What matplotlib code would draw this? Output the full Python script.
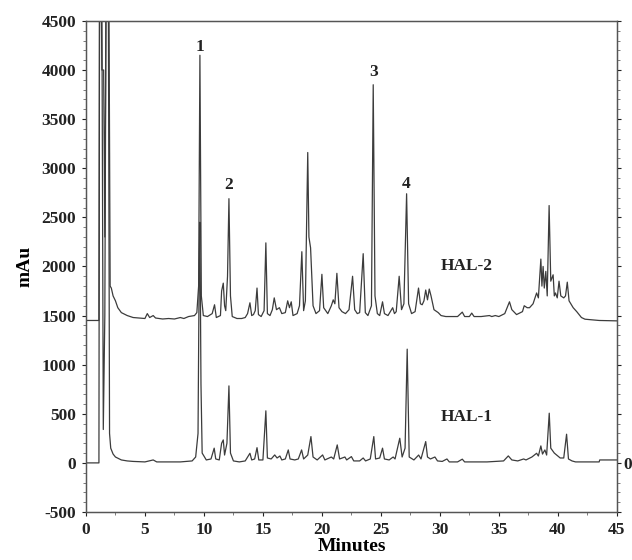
import matplotlib
matplotlib.use("Agg")
import matplotlib.pyplot as plt
from matplotlib.ticker import MultipleLocator

# ---- data (retention time in minutes, signal in mAu) ----
hal2_t = [0, 1.1, 1.15, 1.3, 1.35, 1.5, 1.6, 1.7, 1.95, 2.05, 2.15, 2.3, 2.5, 2.7, 3.0, 3.5, 4.0, 4.5,
          5.0, 5.2, 5.4, 5.7, 5.9, 6.5, 7.0, 7.5, 8.0, 8.3, 8.7, 9.2, 9.4, 9.55, 9.66, 9.78, 9.95,
          10.3, 10.7, 10.9, 11.05, 11.4, 11.5, 11.64, 11.75, 11.85, 12.0, 12.12, 12.25, 12.4, 12.8,
          13.2, 13.5, 13.7, 13.9, 14.05, 14.2, 14.35, 14.5, 14.62, 14.85, 15.1, 15.25, 15.38, 15.6,
          15.8, 15.96, 16.15, 16.4, 16.6, 16.9, 17.1, 17.25, 17.4, 17.55, 17.9, 18.1, 18.3, 18.45,
          18.6, 18.8, 18.9, 19.04, 19.25, 19.5, 19.8, 20.0, 20.15, 20.5, 20.8, 20.96, 21.1, 21.27,
          21.45, 21.7, 22.0, 22.3, 22.6, 22.78, 23.0, 23.2, 23.5, 23.68, 23.9, 24.2, 24.35, 24.5,
          24.7, 24.9, 25.14, 25.3, 25.6, 26.0, 26.15, 26.3, 26.55, 26.75, 26.95, 27.18, 27.35, 27.6,
          27.9, 28.19, 28.35, 28.5, 28.65, 28.8, 28.95, 29.1, 29.25, 29.5, 29.86, 30.1, 30.5, 31.0,
          31.5, 31.9, 32.1, 32.5, 32.7, 32.9, 33.5, 34.2, 34.4, 34.7, 35.0, 35.5, 35.9, 36.1, 36.5,
          37.0, 37.15, 37.4, 37.6, 37.9, 38.2, 38.35, 38.56, 38.65, 38.75, 38.85, 38.98, 39.1, 39.26,
          39.4, 39.6, 39.7, 39.8, 39.95, 40.1, 40.25, 40.5, 40.65, 40.8, 40.95, 41.3, 41.6, 42.0,
          42.3, 43.0, 43.5, 45]
hal2_v = [1450, 1450, 4700, 4700, 4000, 4000, 2300, 4700, 4700, 1800, 1780, 1700, 1650, 1580, 1530, 1500, 1480, 1475,
          1470, 1520, 1480, 1500, 1475, 1465, 1470, 1465, 1480, 1470, 1490, 1500, 1530, 1800, 4150, 1700, 1500,
          1490, 1520, 1610, 1480, 1500, 1750, 1830, 1600, 1550, 1900, 2690, 1700, 1490, 1470,
          1470, 1480, 1520, 1630, 1500, 1510, 1550, 1780, 1510, 1490, 1550, 2240, 1520, 1500,
          1560, 1680, 1560, 1580, 1520, 1530, 1650, 1580, 1640, 1500, 1520, 1600, 2150, 1550,
          1650, 3160, 2300, 2190, 1600, 1520, 1550, 1920, 1580, 1520, 1600, 1660, 1620, 1930,
          1580, 1540, 1520, 1560, 1900, 1560, 1520, 1530, 2130, 1530, 1500, 1600, 3850, 1700,
          1520, 1500, 1640, 1520, 1500, 1580, 1520, 1540, 1900, 1560, 1620, 2740, 1620, 1520,
          1540, 1780, 1620, 1610, 1650, 1760, 1660, 1770, 1700, 1560, 1530, 1500, 1490, 1490,
          1490, 1535, 1490, 1490, 1525, 1490, 1490, 1500, 1490, 1500, 1490, 1520, 1640, 1560, 1510,
          1540, 1600, 1580, 1580, 1620, 1730, 1680, 2075, 1800, 2000, 1780, 1950, 1700, 2620,
          1850, 1915, 1700, 1730, 1680, 1850, 1700, 1680, 1700, 1840, 1650, 1580, 1540, 1480,
          1463, 1455, 1450, 1446]

hal1_t = [0, 1.1, 1.15, 1.35, 1.47, 1.6, 1.7, 1.9, 2.0, 2.1, 2.3, 2.5, 3.0, 3.5, 4.0, 5.0, 5.7, 6.0,
          7.0, 8.0, 9.0, 9.3, 9.5, 9.6, 9.66, 9.75, 9.85, 10.2, 10.6, 10.87, 11.0, 11.3, 11.5, 11.64,
          11.75, 11.95, 12.12, 12.25, 12.5, 13.0, 13.5, 13.9, 14.05, 14.3, 14.5, 14.65, 15.0, 15.25,
          15.38, 15.7, 16.0, 16.2, 16.44, 16.6, 16.9, 17.15, 17.3, 17.7, 18.0, 18.28, 18.45, 18.8,
          19.07, 19.25, 19.6, 20.06, 20.25, 20.8, 21.0, 21.3, 21.5, 21.95, 22.1, 22.5, 22.7, 23.2,
          23.5, 23.7, 24.1, 24.4, 24.55, 24.9, 25.14, 25.3, 25.7, 26.04, 26.2, 26.6, 26.8, 27.05,
          27.23, 27.4, 27.8, 28.2, 28.4, 28.8, 28.95, 29.2, 29.58, 29.8, 30.2, 30.6, 30.8, 31.5,
          31.9, 32.1, 33.0, 34.0, 35.4, 35.8, 36.1, 36.6, 37.1, 37.3, 37.8, 38.2, 38.35, 38.56,
          38.7, 38.9, 39.05, 39.27, 39.4, 39.7, 39.9, 40.2, 40.5, 40.74, 40.9, 41.2, 41.5, 43.5,
          43.55, 45]
hal1_v = [0, 0, 4700, 4700, 340, 1500, 4700, 4700, 300, 150, 90, 60, 30, 20, 15, 10, 30, 10,
          10, 10, 20, 60, 300, 2000, 2450, 800, 100, 30, 40, 150, 40, 30, 200, 234,
          80, 200, 784, 100, 20, 10, 20, 98, 30, 40, 155, 30, 30, 530,
          50, 40, 81, 50, 70, 30, 40, 132, 40, 30, 40, 132, 40, 80,
          268, 60, 30, 81, 30, 60, 40, 183, 40, 60, 30, 64, 20, 20,
          50, 20, 40, 268, 40, 50, 150, 40, 30, 60, 40, 251, 60, 150,
          1158, 60, 30, 80, 40, 217, 60, 40, 60, 20, 15, 40, 10, 10,
          38, 10, 10, 10, 20, 71, 30, 20, 40, 30, 60, 98, 70, 173,
          90, 132, 80, 506, 150, 100, 80, 50, 50, 292, 40, 20, 10, 10,
          30, 30]

peak_labels = ["1", "2", "3", "4"]
peak_label_t = [9.66, 12.12, 24.35, 27.18]
peak_label_v = [4230, 2830, 3975, 2840]

trace_names = ["HAL-2", "HAL-1"]
trace_name_t = [32.3, 32.3]
trace_name_v = [2000, 470]

y_ticks = list(range(-500, 4501, 500))
x_ticks = list(range(0, 46, 5))

# ---- drawing ----
plt.rcParams['font.family'] = ['Liberation Serif', 'DejaVu Serif']
plt.rcParams['font.weight'] = 'bold'
plt.rcParams['axes.unicode_minus'] = False

fig = plt.figure(figsize=(6.32, 5.6), dpi=100)
ax = fig.add_axes([0.136, 0.0857, 0.840, 0.877])

line_col = '#3c3c3c'
ax.plot(hal2_t, hal2_v, color=line_col, lw=0.9)
ax.plot(hal1_t, hal1_v, color=line_col, lw=0.9)

ax.set_xlim(0, 45)
ax.set_ylim(-500, 4500)
ax.set_xticks(x_ticks)
ax.set_yticks(y_ticks)
ax.xaxis.set_minor_locator(MultipleLocator(2.5))
ax.yaxis.set_minor_locator(MultipleLocator(100))
ax.tick_params(axis='both', which='major', labelsize=12.5, length=3, width=0.8,
               direction='out', pad=4, colors='#222222')
ax.tick_params(axis='both', which='minor', length=2, width=0.6, direction='out', colors='#666666')
ax.tick_params(axis='x', which='both', top=False)
for lab in ax.get_xticklabels() + ax.get_yticklabels():
    lab.set_fontweight('bold')

for s in ax.spines.values():
    s.set_color('#555555')
    s.set_linewidth(1.0)

ax2 = ax.twinx()
ax2.set_ylim(-500, 4500)
ax2.set_yticks(y_ticks)
ax2.set_yticklabels(["0" if v == 0 else "" for v in y_ticks])
ax2.yaxis.set_minor_locator(MultipleLocator(100))
ax2.tick_params(axis='y', which='major', labelsize=12.5, length=3, width=0.8, pad=2, colors='#222222')
ax2.tick_params(axis='y', which='minor', length=2, width=0.6, colors='#666666')
for lab in ax2.get_yticklabels():
    lab.set_fontweight('bold')
for s in ax2.spines.values():
    s.set_color('#555555')

ax.set_ylabel("mAu", fontsize=14, fontweight='bold', labelpad=6)
ax.set_xlabel("Minutes", fontsize=14, fontweight='bold', labelpad=0)

for lab, t, v in zip(peak_labels, peak_label_t, peak_label_v):
    ax.text(t, v, lab, ha='center', va='center', fontsize=12.5, fontweight='bold', color='#222222')
for lab, t, v in zip(trace_names, trace_name_t, trace_name_v):
    ax.text(t, v, lab, ha='center', va='center', fontsize=12.5, fontweight='bold', color='#222222')

fig.savefig("out.png", dpi=100)
